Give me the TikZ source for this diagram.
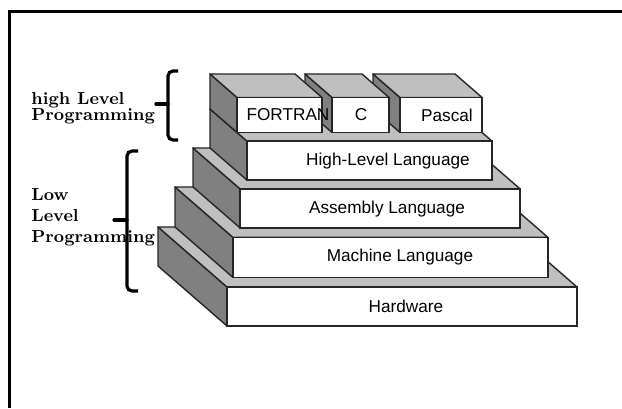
\documentclass[tikz,border=0pt]{standalone}
\usepackage{fontspec}
\newfontfamily\boxfont{Liberation Sans}

% one block of the staircase: x left, x right, y bottom, y top, z front (back is at z=69)
\newcommand{\layerbox}[5]{%
  \filldraw[sideface] (#1,#3,#5) -- (#1,#4,#5) -- (#1,#4,69) -- (#1,#3,69) -- cycle;
  \filldraw[topface] (#1,#4,#5) -- (#2,#4,#5) -- (#2,#4,69) -- (#1,#4,69) -- cycle;
  \filldraw[frontface] (#1,#3,#5) rectangle (#2,#4,#5);
}

\begin{document}
\begin{tikzpicture}[
  x={(0.5pt,0)}, y={(0,0.5pt)}, z={(-0.5pt,0.435pt)},
  sideface/.style={fill=black!50, draw=black!85, line width=0.7pt, line join=round},
  topface/.style={fill=black!25, draw=black!85, line width=0.7pt, line join=round},
  frontface/.style={fill=white, draw=black!85, line width=0.7pt},
  lab/.style={font=\boxfont\fontsize{8.6}{10}\selectfont, inner sep=0pt},
  note/.style={font=\fontsize{8.7}{8}\selectfont\bfseries, align=left, anchor=north west, inner sep=0pt},
  bracket/.style={line width=1.6pt, rounded corners=2.5pt},
  spur/.style={line width=1.6pt, line cap=round}
]
\useasboundingbox (0,0) rectangle (622,408);

% frame
\draw[line width=1.5pt] (622,396.3) -- (9.7,396.3) -- (9.7,0);

% the staircase, bottom to top
\layerbox{227}{577}{82}{121}{0}
\layerbox{244}{559}{121}{161}{11}
\layerbox{262}{542}{161}{200}{22}
\layerbox{279}{524}{200}{239}{32}
\layerbox{442}{524}{239}{274}{42}
\layerbox{374}{431}{239}{274}{42}
\layerbox{279}{364}{239}{274}{42}

\node[lab] (hw) at (406,102) {Hardware};
\node[lab] (ml) at (400,151) {Machine Language};
\node[lab] (al) at (387,199) {Assembly Language};
\node[lab] (hll) at (388,247) {High-Level Language};
\node[lab] (fortran) at (288,293) {FORTRAN};
\node[lab] (clang) at (361,293) {C};
\node[lab] (pascal) at (447,293) {Pascal};

% brackets and their labels
\node[note] (high) at (31,316) {high Level\\Programming};
\node[note] (low) at (31,220) {Low\\[2.5pt]Level\\[2.5pt]Programming};
\draw[bracket] (178,337) -- (168,337) -- (168,268) -- (178,268);
\draw[spur] (168,304) -- (156,304);
\draw[bracket] (138,257) -- (127,257) -- (127,117) -- (138,117);
\draw[spur] (127,188) -- (114,188);

\end{tikzpicture}
\end{document}
